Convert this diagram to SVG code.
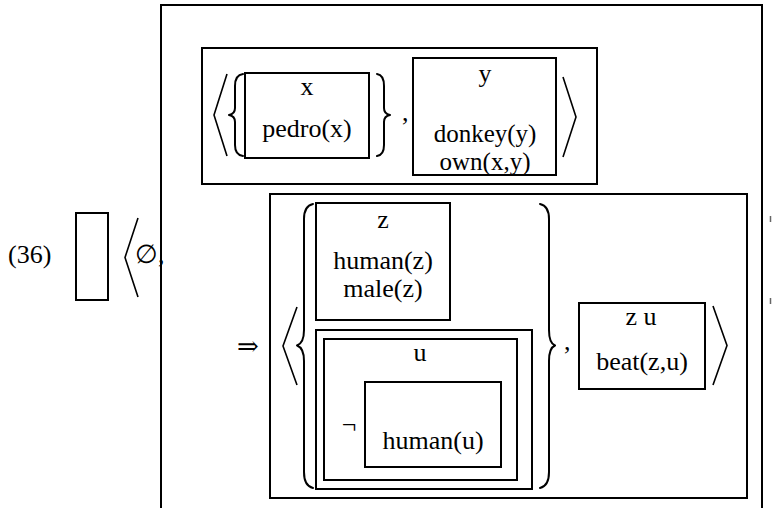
<svg xmlns="http://www.w3.org/2000/svg" width="772" height="508" viewBox="0 0 772 508">
<style>
text{font-family:'Liberation Serif','DejaVu Serif',serif;font-size:26px;fill:#000}
.m{text-anchor:middle}
.tight{font-size:25px}
.box{fill:none;stroke:#000;stroke-width:2}
.br{fill:none;stroke:#000;stroke-width:2;stroke-linecap:round;stroke-linejoin:round}
.ang{fill:none;stroke:#000;stroke-width:1.6;stroke-linejoin:miter}
</style>
<rect width="772" height="508" fill="#fff"/>
<g id="label">
<text x="8" y="263">(36)</text>
</g>
<g id="empty-box"><rect class="box" x="76" y="213" width="32" height="87"/></g>
<g id="outer-pair">
<polyline class="ang" points="138,218 125,257.5 138,297"/>
<text x="135" y="263">∅,</text>
</g>
<g id="big-box"><rect class="box" x="161" y="5" width="601" height="530"/></g>
<g id="antecedent-box">
<rect class="box" x="202" y="48" width="395" height="136"/>
<polyline class="ang" points="227,74 214,115 227,156"/>
<path class="br" d="M243,74 Q235,75 235,86 L235,108 Q235,114 229,115 Q235,116 235,122 L235,145 Q235,155 243,156"/>
<path class="br" d="M377,74 Q384,75 384,86 L384,108 Q384,114 390,115 Q384,116 384,122 L384,145 Q384,155 377,156"/>
<text x="402" y="121">,</text>
<polyline class="ang" points="563,77 576,117 563,157"/>
</g>
<g id="box-x">
<rect class="box" x="245" y="73" width="124" height="85"/>
<text class="m" x="307" y="95">x</text>
<text class="m" x="307" y="137">pedro(x)</text>
</g>
<g id="box-y">
<rect class="box" x="413" y="58" width="143" height="117"/>
<text class="m" x="485" y="82">y</text>
<text class="m tight" x="485" y="142">donkey(y)</text>
<text class="m tight" x="485" y="170">own(x,y)</text>
</g>
<g id="consequent-box">
<rect class="box" x="270" y="194" width="477" height="304"/>
<text class="m" x="248" y="355" font-family="DejaVu Serif">⇒</text>
<polyline class="ang" points="297,307 283,346 297,385"/>
<path class="br" d="M313,204 Q304,206 304,219 L304,330 Q304,343 297,345.5 Q304,348 304,361 L304,472 Q304,486 313,488"/>
<path class="br" d="M540,204 Q549,206 549,219 L549,330 Q549,343 555,345.5 Q549,348 549,361 L549,472 Q549,486 540,488"/>
<text x="564" y="350">,</text>
<polyline class="ang" points="713,306 727,345.5 713,385"/>
</g>
<g id="box-z">
<rect class="box" x="316" y="203" width="134" height="117"/>
<text class="m" x="383" y="228">z</text>
<text class="m" x="383" y="269">human(z)</text>
<text class="m" x="383" y="297">male(z)</text>
</g>
<g id="box-neg-outer"><rect class="box" x="316" y="330" width="216" height="159"/></g>
<g id="box-u">
<rect class="box" x="324" y="339" width="193" height="141"/>
<text class="m" x="420" y="361">u</text>
<text class="m" x="349" y="433">¬</text>
</g>
<g id="box-human-u">
<rect class="box" x="365" y="382" width="136" height="85"/>
<text class="m" x="433" y="449">human(u)</text>
</g>
<g id="box-zu">
<rect class="box" x="579" y="303" width="126" height="86"/>
<text class="m" x="641" y="325">z u</text>
<text class="m" x="642" y="370">beat(z,u)</text>
</g>
<g id="edge-marks">
<line x1="770.5" y1="216" x2="770.5" y2="222" stroke="#666" stroke-width="1.5"/>
<line x1="770.5" y1="298" x2="770.5" y2="304" stroke="#666" stroke-width="1.5"/>
</g>
</svg>
